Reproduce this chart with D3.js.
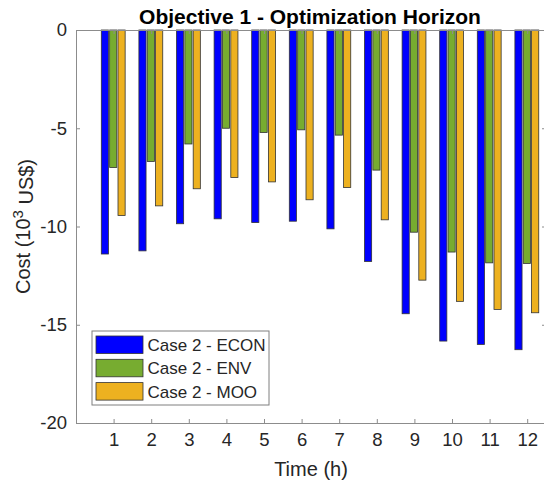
<!DOCTYPE html>
<html>
<head>
<meta charset="utf-8">
<script src="https://cdn.jsdelivr.net/npm/d3@7"></script>
<style>
  body { margin: 0; background: #fff; }
  svg text { font-family: "Liberation Sans", Arial, sans-serif; }
</style>
</head>
<body>
<svg id="chart" width="544" height="484"></svg>
<script>
var hours = [1, 2, 3, 4, 5, 6, 7, 8, 9, 10, 11, 12];
var econ = [-11.40, -11.24, -9.86, -9.61, -9.80, -9.73, -10.12, -11.78, -14.44, -15.83, -16.00, -16.27];
var env = [-7.00, -6.69, -5.80, -5.00, -5.22, -5.08, -5.35, -7.13, -10.29, -11.30, -11.85, -11.88];
var moo = [-9.44, -8.95, -8.08, -7.51, -7.73, -8.64, -8.02, -9.66, -12.73, -13.81, -14.22, -14.39];
var seriesNames = ["Case 2 - ECON", "Case 2 - ENV", "Case 2 - MOO"];
var seriesColors = ["#0000ff", "#77ac30", "#edb120"];
var yTicks = [0, -5, -10, -15, -20];

var series = [econ, env, moo];

var svg = d3.select("#chart");

var x = d3.scaleLinear().domain([0, 12.5]).range([76, 546]),
    y = d3.scaleLinear().domain([-20, 0]).range([423, 30]);

var axisColor = "#8c8c8c",
    textColor = "#262626";

// bars, one group per hour
var barStep = 0.222, barWidth = 0.19;
series.forEach(function(vals, i) {
  svg.append("g").selectAll("rect")
      .data(vals)
    .enter().append("rect")
      .attr("x", function(d, j) { return x(hours[j] + (i - 1) * barStep - barWidth / 2 - 0.01); })
      .attr("y", y(0))
      .attr("width", x(barWidth) - x(0))
      .attr("height", function(d) { return y(d) - y(0); })
      .attr("fill", seriesColors[i])
      .attr("stroke", "#333")
      .attr("stroke-width", 0.8);
});

// box axes, ticks inward
var axBottom = svg.append("g")
    .attr("transform", "translate(0," + y(-20) + ")")
    .call(d3.axisBottom(x).tickValues(hours).tickSize(-4).tickPadding(10).tickFormat(d3.format("d")));
var axTop = svg.append("g")
    .attr("transform", "translate(0," + y(0) + ")")
    .call(d3.axisTop(x).tickValues(hours).tickSize(-4).tickFormat(""));
var axLeft = svg.append("g")
    .attr("transform", "translate(" + x(0) + ",0)")
    .call(d3.axisLeft(y).tickValues(yTicks).tickSize(-4).tickPadding(9).tickFormat(d3.format("d")));
var axRight = svg.append("g")
    .attr("transform", "translate(" + x(12.5) + ",0)")
    .call(d3.axisRight(y).tickValues(yTicks).tickSize(-4).tickFormat(""));

[axBottom, axTop, axLeft, axRight].forEach(function(g) {
  g.select(".domain").attr("stroke", axisColor).attr("stroke-width", 1);
  g.selectAll(".tick line").attr("stroke", axisColor);
  g.selectAll(".tick text")
      .attr("fill", textColor)
      .style("font-size", "18.5px");
});
axLeft.selectAll(".tick text").text(function(d) { return d == 0 ? "0" : "-" + Math.abs(d); });

// title and labels
svg.append("text")
    .attr("x", 310)
    .attr("y", 24)
    .attr("text-anchor", "middle")
    .style("font-size", "21px")
    .style("font-weight", "bold")
    .attr("fill", "#000")
    .text("Objective 1 - Optimization Horizon");

svg.append("text")
    .attr("x", 311)
    .attr("y", 476)
    .attr("text-anchor", "middle")
    .style("font-size", "20px")
    .attr("fill", textColor)
    .text("Time (h)");

var ylab = svg.append("text")
    .attr("transform", "translate(30," + ((y(0) + y(-20)) / 2) + ") rotate(-90)")
    .attr("text-anchor", "middle")
    .style("font-size", "20px")
    .attr("fill", textColor);
ylab.append("tspan").text("Cost (10");
ylab.append("tspan").attr("dy", "-0.5em").style("font-size", "15px").text("3");
ylab.append("tspan").attr("dy", "0.5em").text(" US$)");

// legend
var legend = svg.append("g").attr("transform", "translate(92,331)");
legend.append("rect")
    .attr("width", 177)
    .attr("height", 74)
    .attr("fill", "#fff")
    .attr("stroke", "#7f7f7f")
    .attr("stroke-width", 1);
seriesNames.forEach(function(name, i) {
  var row = legend.append("g").attr("transform", "translate(4," + (5 + i * 23.3) + ")");
  row.append("rect")
      .attr("width", 47)
      .attr("height", 17.5)
      .attr("fill", seriesColors[i])
      .attr("stroke", "#333")
      .attr("stroke-width", 0.8);
  row.append("text")
      .attr("x", 51.5)
      .attr("y", 15)
      .style("font-size", "17px")
      .attr("fill", textColor)
      .text(name);
});
</script>
</body>
</html>
